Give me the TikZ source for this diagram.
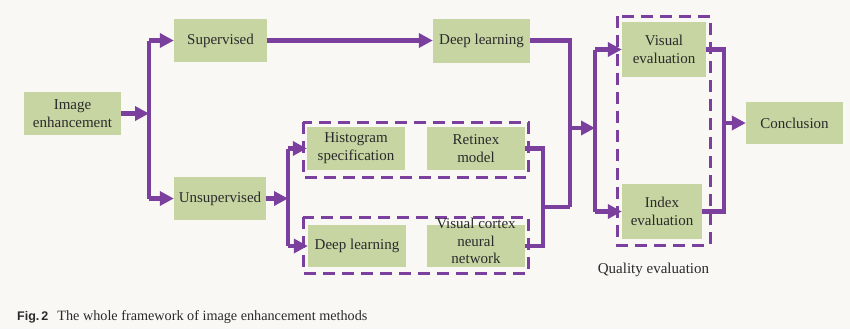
\documentclass[tikz,border=0pt]{standalone}
\usepackage{fontspec}
\setmainfont{Liberation Serif}
\newfontfamily\capsans{Liberation Sans}
\usetikzlibrary{arrows.meta}
\definecolor{flowpurple}{HTML}{7B3F9E}
\definecolor{boxgreen}{HTML}{C7D5A3}
\definecolor{paper}{HTML}{F9F8F4}
\definecolor{ink}{HTML}{2A2A2A}
\tikzset{
  stage/.style={fill=boxgreen, inner sep=0pt, align=center, text=ink,
    font=\fontsize{15bp}{18bp}\selectfont},
  flow/.style={draw=flowpurple, line width=4.2bp, line join=miter},
  flowarrow/.style={flow, -{Triangle[length=14bp,width=14bp]}},
  groupbox/.style={draw=flowpurple, line width=3bp, dash pattern=on 12bp off 7bp},
}
\begin{document}
\begin{tikzpicture}[x=1bp,y=-1bp]
  % canvas
  \fill[paper] (0,0) rectangle (850,329);
  \useasboundingbox (0,0) rectangle (850,329);

  % dashed groups
  \draw[groupbox] (303,122) rectangle (528,177);
  \draw[groupbox] (303,217) rectangle (528,273);
  \draw[groupbox] (617,16) rectangle (710,245);

  % stages
  \node[stage, minimum width=97bp, minimum height=43bp] (ie) at (72.5,113.5) {Image\\enhancement};
  \node[stage, minimum width=93bp, minimum height=43bp] (sup) at (220.5,40.5) {Supervised};
  \node[stage, minimum width=92bp, minimum height=43bp] (unsup) at (220,198.5) {Unsupervised};
  \node[stage, minimum width=97bp, minimum height=44bp] (dlsup) at (481.5,40.5) {Deep learning};
  \node[stage, minimum width=98bp, minimum height=43bp] (hist) at (356,148.5) {Histogram\\specification};
  \node[stage, minimum width=98bp, minimum height=43bp] (ret) at (476,148.5) {Retinex\\model};
  \node[stage, minimum width=98bp, minimum height=42bp] (dlun) at (357,246) {Deep learning};
  \node[stage, minimum width=98bp, minimum height=42bp] (vc) at (476,246)
    {\smash{\begin{tabular}{@{}c@{}}Visual cortex\\[-0.5bp]neural\\[-0.5bp]network\end{tabular}}};
  \node[stage, minimum width=84bp, minimum height=55bp] (visev) at (664,49.5) {Visual\\evaluation};
  \node[stage, minimum width=80bp, minimum height=55bp] (idxev) at (662,211.5) {Index\\evaluation};
  \node[stage, minimum width=97bp, minimum height=42bp] (concl) at (794.5,123) {Conclusion};

  \node[text=ink, font=\fontsize{15bp}{18bp}\selectfont] (qlabel) at (653.5,270) {Quality evaluation};

  % junction points
  \coordinate (s1t) at (149,40.5);
  \coordinate (s1b) at (149,198.5);
  \coordinate (s2t) at (288,148.5);
  \coordinate (s2b) at (288,246);
  \coordinate (m1t) at (543,148.5);
  \coordinate (m1b) at (543,246);
  \coordinate (m1c) at (543,207);
  \coordinate (m2t) at (570,40.5);
  \coordinate (m2c) at (570,207);
  \coordinate (m2o) at (570,128);
  \coordinate (s3t) at (595,49.5);
  \coordinate (s3b) at (595,211.5);
  \coordinate (m3t) at (724,49.5);
  \coordinate (m3b) at (724,211.5);

  % image enhancement split
  \draw[flowarrow] (ie.east) -- (ie.east -| s1t);
  \draw[flow] (s1t) -- (s1b);
  \draw[flowarrow] (s1t) -- (sup.west);
  \draw[flowarrow] (s1b) -- (unsup.west);

  % supervised branch
  \draw[flowarrow] (sup.east) -- (dlsup.west);

  % unsupervised split
  \draw[flowarrow] (unsup.east) -- (unsup.east -| s2t);
  \draw[flow] (s2t) -- (s2b);
  \draw[flowarrow] (s2t) -- (hist.west);
  \draw[flowarrow] (s2b) -- (dlun.west);

  % merge of methods
  \draw[flow] (ret.east) -- (m1t) -- (m1b) -- (vc.east);
  \draw[flow] (m1c) -- (m2c);
  \draw[flow] (dlsup.east) -- (m2t) -- (m2c);
  \draw[flowarrow] (m2o) -- (m2o -| s3t);

  % quality evaluation split
  \draw[flow] (s3t) -- (s3b);
  \draw[flowarrow] (s3t) -- (visev.west);
  \draw[flowarrow] (s3b) -- (idxev.west);

  % to conclusion
  \draw[flow] (visev.east) -- (m3t) -- (m3b) -- (idxev.east);
  \draw[flowarrow] (concl.west -| m3t) -- (concl.west);

  % caption
  \node[anchor=base west, inner sep=0pt, text=ink] (caption) at (17,320)
    {{\capsans\bfseries\fontsize{12.5bp}{14bp}\selectfont Fig.\,2}\hspace{9bp}{\fontsize{14.2bp}{16bp}\selectfont The whole framework of image enhancement methods}};
\end{tikzpicture}
\end{document}
